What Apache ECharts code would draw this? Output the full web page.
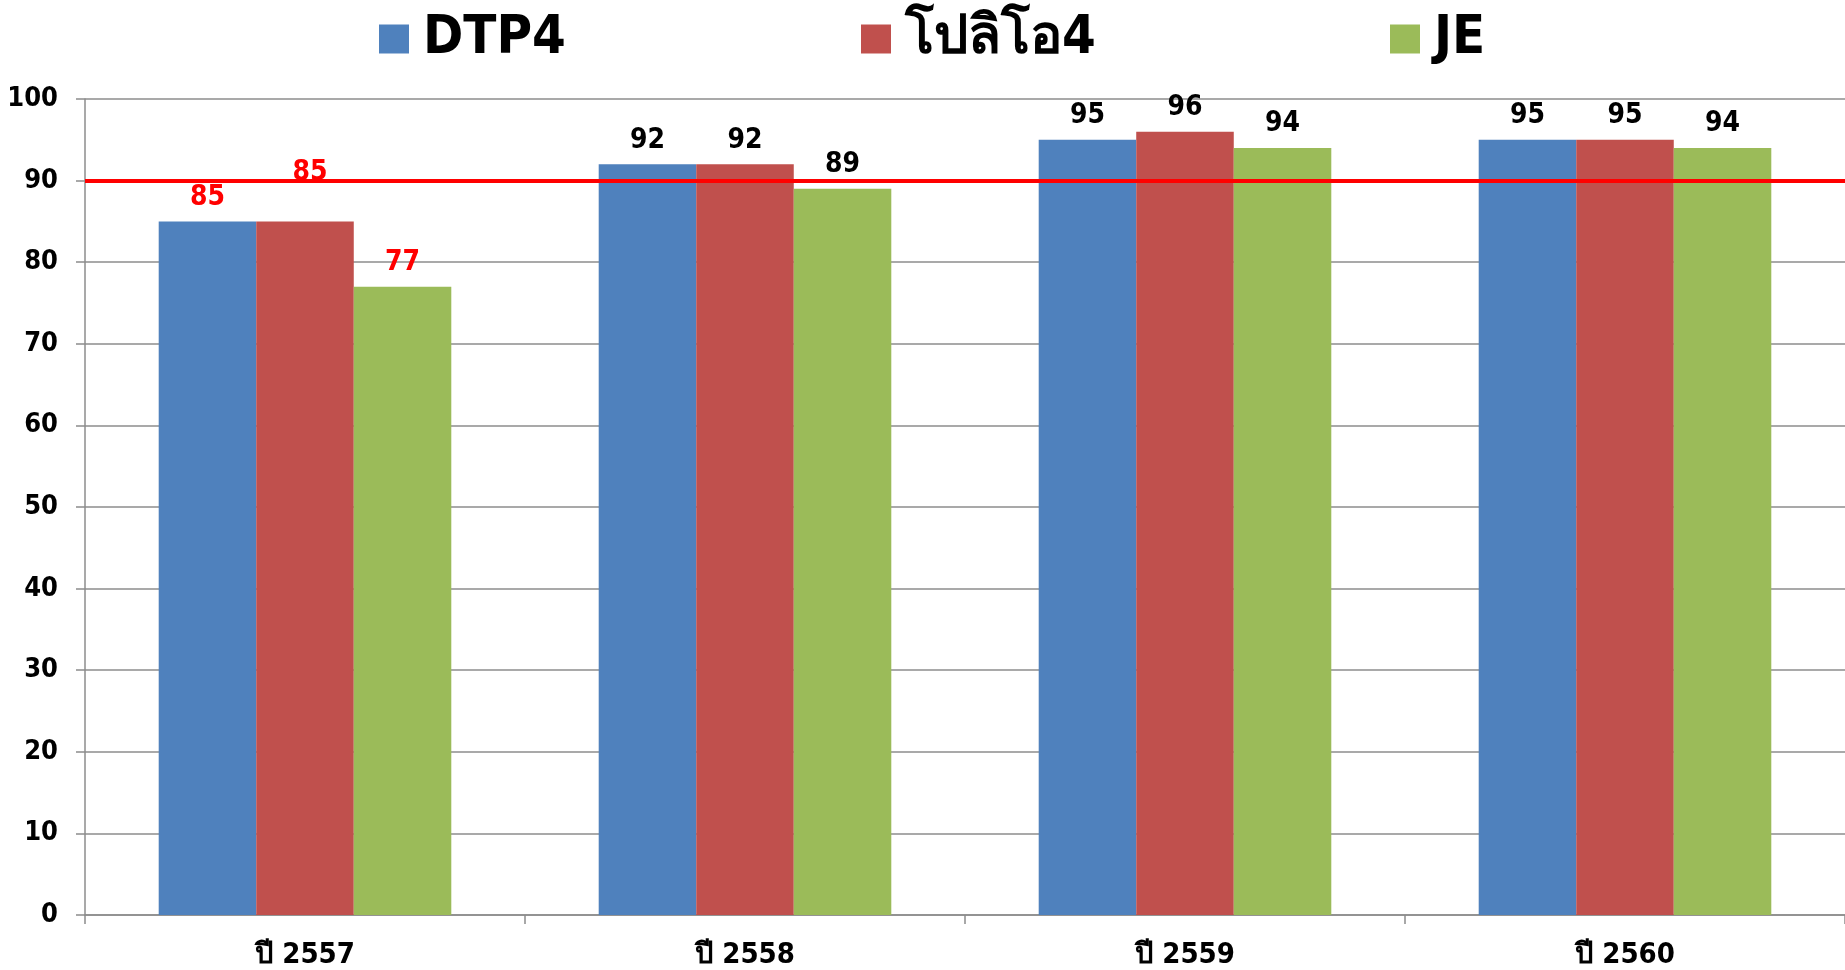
<!DOCTYPE html>
<html>
<head>
<meta charset="utf-8">
<script src="https://cdn.jsdelivr.net/npm/echarts@6/dist/echarts.min.js"></script>
<style>
html,body{margin:0;padding:0;background:#fff;}
#chart{width:1845px;height:970px;}
</style>
</head>
<body>
<div id="chart"></div>
<script>
const categories = ['ปี 2557', 'ปี 2558', 'ปี 2559', 'ปี 2560'];
const seriesNames = ['DTP4', 'โปลิโอ4', 'JE'];
const dtp4 = [85, 92, 95, 95];
const polio4 = [85, 92, 96, 95];
const je = [77, 89, 94, 94];
const targetLine = [90];
const yTicks = { min: 0, max: 100, interval: 10 };

const FONT = '"DejaVu Sans Condensed", "DejaVu Sans", "Noto Sans", sans-serif';
const colors = ['#4F81BD', '#C0504D', '#9BBB59'];
const values = [dtp4, polio4, je];

function buildData(arr, sIdx) {
  return arr.map((v, i) => {
    const item = { value: v, label: { color: i === 0 ? '#FF0000' : '#000000' } };
    if (sIdx === 1 && i === 0) item.label.offset = [5, -25];
    return item;
  });
}

const legendLefts = [374, 856, 1385];
const legends = seriesNames.map((n, i) => ({
  data: [n],
  left: legendLefts[i],
  top: 7,
  itemWidth: 30,
  itemHeight: 29,
  icon: 'rect',
  selectedMode: false,
  textStyle: { fontFamily: FONT, fontWeight: 'bold', fontSize: 54, color: '#000', padding: [0, 0, 0, 9] }
}));

const series = seriesNames.map((n, i) => {
  const s = {
    name: n,
    type: 'bar',
    data: buildData(values[i], i),
    itemStyle: { color: colors[i] },
    barGap: '0%',
    barCategoryGap: '33.5%',
    label: {
      show: true,
      position: 'top',
      distance: 10,
      fontFamily: FONT,
      fontWeight: 'bold',
      fontSize: 28
    }
  };
  if (i === 0) {
    s.markLine = {
      silent: true,
      symbol: ['none', 'none'],
      label: { show: false },
      lineStyle: { color: '#FF0000', width: 4, type: 'solid' },
      data: targetLine.map(v => ({ yAxis: v })),
      z: 10
    };
  }
  return s;
});

const chart = echarts.init(document.getElementById('chart'));
chart.setOption({
  animation: false,
  backgroundColor: '#ffffff',
  legend: legends,
  grid: { left: 85, top: 99, right: -9, bottom: 54.5, containLabel: false },
  xAxis: {
    type: 'category',
    data: categories,
    axisLine: { lineStyle: { color: '#8C8C8C', width: 1.5 } },
    axisTick: { show: true, length: 9, lineStyle: { color: '#8C8C8C', width: 1.5 } },
    axisLabel: { fontFamily: FONT, fontWeight: 'bold', fontSize: 29, color: '#000', margin: 26 },
    splitLine: { show: false }
  },
  yAxis: {
    type: 'value',
    min: yTicks.min,
    max: yTicks.max,
    interval: yTicks.interval,
    axisLine: { show: true, lineStyle: { color: '#8C8C8C', width: 1.5 } },
    axisTick: { show: true, length: 9, lineStyle: { color: '#8C8C8C', width: 1.5 } },
    axisLabel: { fontFamily: FONT, fontWeight: 'bold', fontSize: 27, color: '#000', margin: 27 },
    splitLine: { show: true, lineStyle: { color: '#8C8C8C', width: 1.5 } }
  },
  series: series
});
</script>
</body>
</html>
